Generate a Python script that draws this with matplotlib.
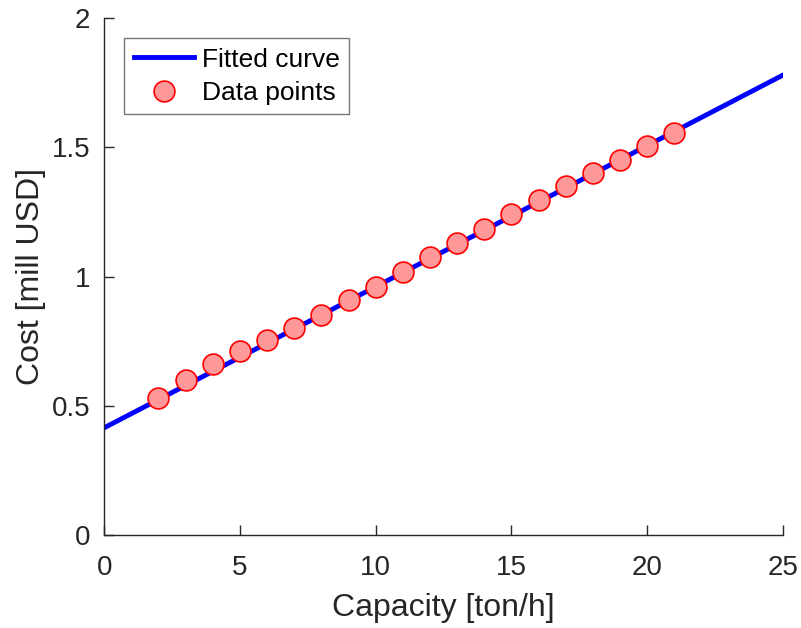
import matplotlib
matplotlib.use("Agg")
import matplotlib.pyplot as plt

plt.rcParams["font.family"] = ["Liberation Sans", "DejaVu Sans"]

# fitted line (read at the axis ends)
fitX = [0, 25]
fitY = [0.415, 1.78]

# data points
capacity = [2, 3, 4, 5, 6, 7, 8, 9, 10, 11, 12, 13, 14, 15, 16, 17, 18, 19, 20, 21]
cost = [0.530, 0.600, 0.661, 0.712, 0.754, 0.801, 0.851, 0.909, 0.959, 1.017,
        1.075, 1.130, 1.184, 1.242, 1.296, 1.350, 1.400, 1.451, 1.505, 1.555]

fig = plt.figure(figsize=(8.01, 6.28), dpi=100)
ax = fig.add_axes([0.13, 0.148, 0.8475, 0.823])

ax.plot(fitX, fitY, color="#0000ff", lw=3.5, label="Fitted curve")
ax.plot(capacity, cost, "o", ms=15, mfc="#ff9999", mec="#ff0000", mew=1.2,
        label="Data points")

ax.set_xlim(0, 25)
ax.set_ylim(0, 2)
ax.set_xticks([0, 5, 10, 15, 20, 25])
ax.set_yticks([0, 0.5, 1, 1.5, 2])
ax.set_yticklabels(["0", "0.5", "1", "1.5", "2"])

dark = "#262626"
for side in ["top", "right"]:
    ax.spines[side].set_visible(False)
for side in ["left", "bottom"]:
    ax.spines[side].set_color(dark)
    ax.spines[side].set_linewidth(1.0)
ax.tick_params(direction="in", length=7, width=1.0, colors=dark, labelsize=20)
ax.tick_params(axis="x", pad=14)
ax.tick_params(axis="y", pad=10)

ax.set_xlabel("Capacity [ton/h]", fontsize=23, color=dark, labelpad=9)
ax.set_ylabel("Cost [mill USD]", fontsize=23, color=dark, labelpad=4)

leg = ax.legend(loc="upper left", bbox_to_anchor=(0.03, 0.961), fontsize=19,
                frameon=True, fancybox=False, edgecolor="#555555",
                handlelength=2.3, borderpad=0.35, labelspacing=0.35,
                handletextpad=0.3, borderaxespad=0)
leg.get_frame().set_linewidth(1.0)

fig.savefig("out.png", dpi=100)
